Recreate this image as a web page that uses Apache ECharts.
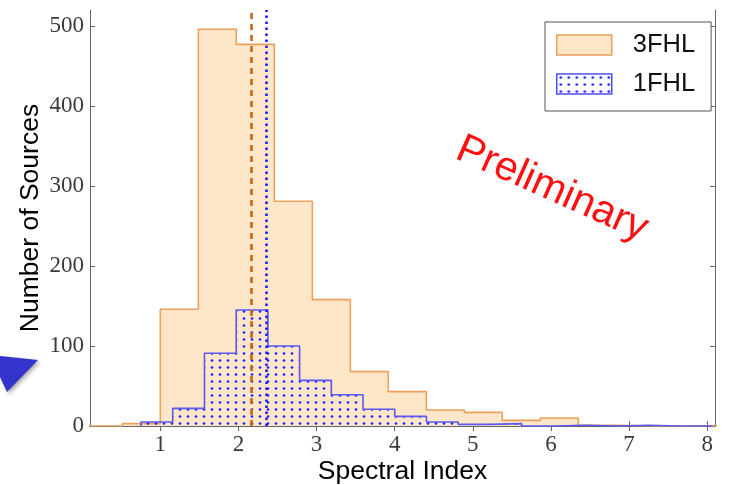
<!DOCTYPE html>
<html>
<head>
<meta charset="utf-8">
<script src="https://cdn.jsdelivr.net/npm/echarts@6/dist/echarts.min.js"></script>
<style>
  html, body { margin: 0; padding: 0; background: #fff; }
  #chart { width: 729px; height: 485px; }
</style>
</head>
<body>
<div id="chart"></div>
<script>
// Spectral index histograms (bin edges + counts per catalogue)
const edges3FHL = [0.03, 0.515, 1.0, 1.487, 1.973, 2.46, 2.946, 3.432, 3.918, 4.405, 4.891, 5.377, 5.864, 6.35, 6.836, 7.323, 7.809, 8.295];
const counts3FHL = [0, 3, 146, 496, 477, 281, 158, 68, 43, 20, 17, 7, 10, 1, 0, 0, 1];

const edges1FHL = [0.753, 1.159, 1.565, 1.971, 2.377, 2.783, 3.189, 3.595, 4.001, 4.407, 4.813, 5.219, 5.625, 6.031, 6.437, 6.843, 7.249, 7.655, 8.061];
const counts1FHL = [5, 22, 91, 145, 100, 57, 39, 21, 12, 5, 2, 3, 0, 1, 0, 1, 0, 0];

// Median spectral index of each catalogue
const median3FHL = 2.16;
const median1FHL = 2.36;

const xTicks = [1, 2, 3, 4, 5, 6, 7, 8];
const yTicks = [0, 100, 200, 300, 400, 500];

// Turn edges/counts into a closed step outline for a 'step: end' line
function stepPoints(edges, counts) {
  const pts = [[edges[0], 0]];
  for (let i = 0; i < counts.length; i++) pts.push([edges[i], counts[i]]);
  const last = edges[edges.length - 1];
  pts.push([last, counts[counts.length - 1]]);
  pts.push([last, 0]);
  return pts;
}

// Dot hatch used for the 1FHL histogram
function dotPattern() {
  const c = document.createElement('canvas');
  c.width = 8; c.height = 7;
  const ctx = c.getContext('2d');
  ctx.fillStyle = '#1f1fff';
  ctx.beginPath();
  ctx.arc(4, 3.5, 1.35, 0, Math.PI * 2);
  ctx.fill();
  return { image: c, repeat: 'repeat' };
}
const dots = dotPattern();

const tickFont = { fontFamily: 'Liberation Serif', fontSize: 23, color: '#3a3a3a' };
const sansFont = 'Liberation Sans';
const frameLine = { show: true, lineStyle: { color: '#666', width: 1 } };
const innerTick = (vals) => ({ show: true, inside: true, length: 5, customValues: vals, lineStyle: { color: '#666' } });

const chart = echarts.init(document.getElementById('chart'), null, { renderer: 'canvas' });

chart.setOption({
  animation: false,
  backgroundColor: '#fff',
  grid: { left: 90, right: 14, top: 10, bottom: 59, containLabel: false, outerBoundsMode: 'none' },
  xAxis: [{
    type: 'value', min: 0.1, max: 8.1, position: 'bottom',
    name: 'Spectral Index', nameLocation: 'middle', nameGap: 32, nameMoveOverlap: false,
    nameTextStyle: { fontFamily: sansFont, fontSize: 26.5, color: '#000', verticalAlign: 'top' },
    axisLine: frameLine,
    axisTick: innerTick(xTicks),
    axisLabel: Object.assign({ margin: 7, customValues: xTicks }, tickFont),
    splitLine: { show: false }
  }, {
    type: 'value', min: 0.1, max: 8.1, position: 'top',
    axisLine: frameLine,
    axisTick: innerTick(xTicks),
    axisLabel: { show: false },
    splitLine: { show: false }
  }],
  yAxis: [{
    type: 'value', min: 0, max: 520, position: 'left',
    name: 'Number of Sources', nameLocation: 'middle', nameGap: 46, nameRotate: 90, nameMoveOverlap: false,
    nameTextStyle: { fontFamily: sansFont, fontSize: 26.5, color: '#000' },
    axisLine: frameLine,
    axisTick: innerTick(yTicks),
    axisLabel: Object.assign({ margin: 6, customValues: yTicks }, tickFont),
    splitLine: { show: false }
  }, {
    type: 'value', min: 0, max: 520, position: 'right',
    axisLine: frameLine,
    axisTick: innerTick(yTicks),
    axisLabel: { show: false },
    splitLine: { show: false }
  }],
  legend: {
    left: 545, top: 22, orient: 'vertical',
    padding: [10, 16, 14, 11], itemGap: 13,
    itemWidth: 55, itemHeight: 20, icon: 'rect',
    backgroundColor: '#fff', borderColor: '#555', borderWidth: 1, borderRadius: 0,
    textStyle: { fontFamily: sansFont, fontSize: 25.5, color: '#111', lineHeight: 20, padding: [0, 0, 0, 16] },
    data: [
      { name: '3FHL', itemStyle: { color: '#fee6c9', borderColor: '#eba05c', borderWidth: 1.5 } },
      { name: '1FHL', itemStyle: { color: dots, borderColor: '#4d4df2', borderWidth: 1.5 } }
    ]
  },
  series: [{
    name: '3FHL', type: 'line', step: 'end', symbol: 'none', z: 2,
    data: stepPoints(edges3FHL, counts3FHL),
    lineStyle: { color: '#eba05c', width: 1.6 },
    itemStyle: { color: '#eba05c' },
    areaStyle: { color: '#fee6c9', opacity: 1 },
    markLine: {
      silent: true, symbol: ['none', 'none'], label: { show: false },
      lineStyle: { color: '#cc6410', width: 2.6, type: [6, 5] },
      data: [{ xAxis: median3FHL }]
    }
  }, {
    name: '1FHL', type: 'line', step: 'end', symbol: 'none', z: 3,
    data: stepPoints(edges1FHL, counts1FHL),
    lineStyle: { color: '#5a5af0', width: 1.6 },
    itemStyle: { color: '#5a5af0' },
    areaStyle: { color: dots, opacity: 1 },
    markLine: {
      silent: true, symbol: ['none', 'none'], label: { show: false },
      lineStyle: { color: '#1f1ff5', width: 2.6, type: [2.5, 3.5] },
      data: [{ xAxis: median1FHL }]
    }
  }],
  graphic: [{
    type: 'text', x: 552, y: 189, rotation: -24 * Math.PI / 180, z: 10,
    style: {
      text: 'Preliminary', fill: '#ff1010', font: '41px "Liberation Sans"',
      align: 'center', verticalAlign: 'middle'
    }
  }, {
    type: 'polygon', z: 10,
    shape: { points: [[0, 356], [38, 360], [7, 392], [0, 377]] },
    style: {
      fill: '#3434cc', shadowBlur: 4, shadowColor: 'rgba(0,0,0,0.35)',
      shadowOffsetX: 2, shadowOffsetY: 2
    }
  }]
});
</script>
</body>
</html>
